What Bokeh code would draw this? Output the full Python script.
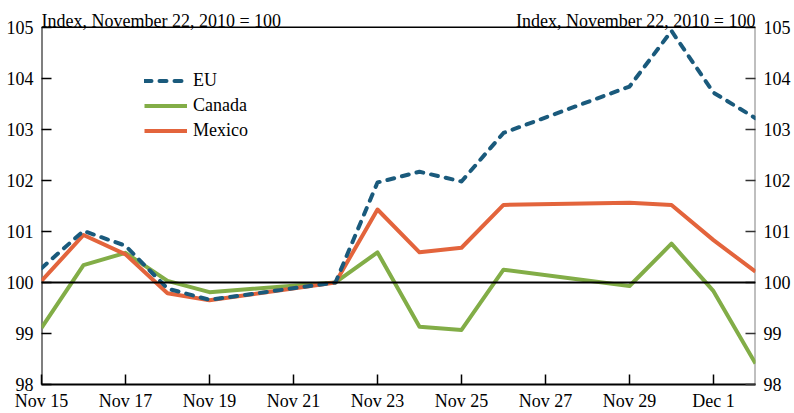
import pandas as pd
from bokeh.plotting import figure
from bokeh.models import (Range1d, LinearAxis, FixedTicker, Span, Label, Legend, LegendItem)
from bokeh.embed import file_html
from bokeh.resources import INLINE

dates = ["2010-11-15", "2010-11-16", "2010-11-17", "2010-11-18", "2010-11-19",
         "2010-11-22", "2010-11-23", "2010-11-24", "2010-11-25", "2010-11-26",
         "2010-11-29", "2010-11-30", "2010-12-01", "2010-12-02"]
eu = [100.28, 101.01, 100.72, 99.88, 99.66, 100.0, 101.96, 102.17, 101.98, 102.93,
      103.84, 104.93, 103.72, 103.22]
canada = [99.11, 100.34, 100.58, 100.03, 99.81, 100.0, 100.59, 99.13, 99.07, 100.25,
          99.93, 100.76, 99.83, 98.41]
mexico = [100.03, 100.93, 100.55, 99.79, 99.65, 100.0, 101.43, 100.59, 100.68, 101.52,
          101.56, 101.52, 100.83, 100.21]
tick_dates = ["2010-11-15", "2010-11-17", "2010-11-19", "2010-11-21", "2010-11-23",
              "2010-11-25", "2010-11-27", "2010-11-29", "2010-12-01"]
tick_labels = ["Nov 15", "Nov 17", "Nov 19", "Nov 21", "Nov 23", "Nov 25", "Nov 27",
               "Nov 29", "Dec 1"]
y_ticks = [98, 99, 100, 101, 102, 103, 104, 105]
axis_title = "Index, November 22, 2010 = 100"

base = pd.Timestamp("2010-11-15")
xs = [(pd.Timestamp(d) - base).days for d in dates]
xt = [(pd.Timestamp(d) - base).days for d in tick_dates]
x_end = (pd.Timestamp("2010-12-02") - base).days

FONT = "Liberation Serif"
FS = "18px"
C_EU = "#1a5a7c"
C_CA = "#82ad47"
C_MX = "#e3643c"

W, H = 794, 413
LEFT, RIGHT, TOP, BOTTOM = 41, 755, 27, 386   # where the 98..105 box sits on the page
y_lo, y_hi = y_ticks[0], y_ticks[-1]
px_per_unit = (BOTTOM - TOP) / (y_hi - y_lo)
y_top = y_hi + TOP / px_per_unit   # extra room above 105 for the header texts

p = figure(width=W, height=H, output_backend="svg", toolbar_location=None,
           x_range=Range1d(0, x_end), y_range=Range1d(y_lo, y_top),
           min_border_left=LEFT, min_border_right=W - RIGHT, min_border_top=0,
           min_border_bottom=H - BOTTOM)
p.grid.visible = False
p.outline_line_color = None
p.background_fill_color = "white"
p.border_fill_color = "white"

# axes
p.xaxis.ticker = FixedTicker(ticks=xt)
p.xaxis.major_label_overrides = {t: l for t, l in zip(xt, tick_labels)}
p.yaxis.ticker = FixedTicker(ticks=y_ticks)
right = LinearAxis(ticker=FixedTicker(ticks=y_ticks))
p.add_layout(right, "right")

for ax in [p.xaxis[0], p.yaxis[0], right]:
    ax.major_tick_in = 10
    ax.major_tick_out = 0
    ax.minor_tick_in = 0
    ax.minor_tick_out = 0
    ax.major_label_text_font = FONT
    ax.major_label_text_font_size = FS
    ax.major_label_text_color = "black"
    ax.major_tick_line_width = 1.5
    ax.major_tick_line_color = "black"
    ax.major_label_standoff = 8
p.xaxis.axis_line_width = 2
p.xaxis.axis_line_color = "black"
p.xaxis.major_label_standoff = 6
p.yaxis.axis_line_color = None
right.axis_line_color = None
right.major_tick_line_color = "#333333"

# frame borders of the 98..105 box
p.segment(x0=[0], y0=[y_lo], x1=[0], y1=[y_hi], line_color="black", line_width=2)
p.segment(x0=[x_end], y0=[y_lo], x1=[x_end], y1=[y_hi], line_color="#808080", line_width=2)
p.add_layout(Span(location=y_hi, dimension="width", line_color="black", line_width=1.5))
p.add_layout(Span(location=100, dimension="width", line_color="black", line_width=2))

r_ca = p.line(xs, canada, line_color=C_CA, line_width=4, line_join="round")
r_mx = p.line(xs, mexico, line_color=C_MX, line_width=4, line_join="round")
r_eu = p.line(xs, eu, line_color=C_EU, line_width=4, line_dash="7 8",
              line_cap="round", line_join="round")

legend = Legend(items=[LegendItem(label="EU", renderers=[r_eu]),
                       LegendItem(label="Canada", renderers=[r_ca]),
                       LegendItem(label="Mexico", renderers=[r_mx])],
                location=(103, 241), orientation="vertical",
                padding=0, margin=0, spacing=0,
                glyph_width=43, glyph_height=25, label_height=25,
                label_standoff=6, border_line_color=None,
                background_fill_alpha=0,
                label_text_font=FONT, label_text_font_size=FS, label_text_color="black")
p.add_layout(legend, "center")

p.add_layout(Label(x=0, y=y_hi, text=axis_title, y_offset=6, text_align="left",
                   text_baseline="alphabetic", text_font=FONT, text_font_size=FS,
                   text_color="black"))
p.add_layout(Label(x=x_end, y=y_hi, text=axis_title, y_offset=6, text_align="right",
                   text_baseline="alphabetic", text_font=FONT, text_font_size=FS,
                   text_color="black"))

open("out.html", "w").write(file_html(p, INLINE))
